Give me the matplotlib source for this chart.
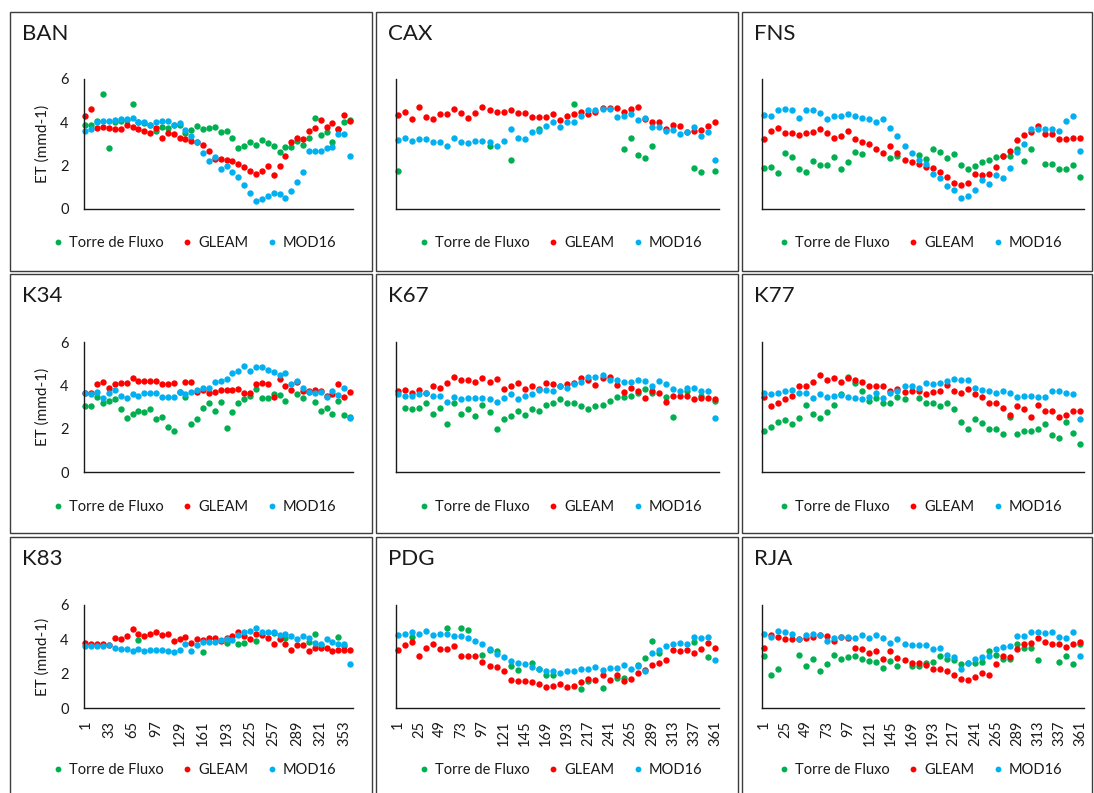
import numpy as np
import matplotlib
matplotlib.use("Agg")
import matplotlib.pyplot as plt
from matplotlib.patches import Rectangle
from matplotlib.lines import Line2D

nan = float("nan")

# ---------------- data ----------------
DOY = [1 + 8 * i for i in range(46)]
SITES = ["BAN", "CAX", "FNS", "K34", "K67", "K77", "K83", "PDG", "RJA"]
SERIES = ["Torre de Fluxo", "GLEAM", "MOD16"]

BAN_TORRE = [3.9, 3.9, 4.05, 5.3, 2.8, 4.0, 4.05, 4.1, 4.85, 4.0,
             3.95, 3.9, 3.6, 3.8, 3.75, 3.9, 3.9, 3.5, 3.65, 3.85,
             3.7, 3.75, 3.8, 3.55, 3.6, 3.3, 2.8, 2.9, 3.1, 2.95,
             3.2, 3.05, 2.9, 2.65, 2.85, 2.85, 3.15, 2.95, 3.3, 4.2,
             3.4, 3.55, 3.1, 3.7, 4.0, 4.1]
BAN_GLEAM = [4.3, 4.6, 3.75, 3.8, 3.75, 3.7, 3.7, 3.9, 3.8, 3.7,
             3.6, 3.5, 3.75, 3.3, 3.5, 3.45, 3.3, 3.25, 3.15, 3.1,
             2.95, 2.7, 2.3, 2.3, 2.25, 2.2, 2.1, 1.95, 1.75, 1.6,
             1.75, 2.0, 1.55, 2.0, 2.45, 3.1, 3.3, 3.25, 3.6, 3.75,
             4.1, 3.8, 3.95, 3.7, 4.35, 4.05]
BAN_MOD16 = [3.6, 3.7, 4.0, 4.05, 4.05, 4.1, 4.15, 4.15, 4.2, 4.0,
             4.0, 3.9, 4.0, 4.05, 4.05, 3.9, 3.95, 3.65, 3.35, 3.1,
             2.6, 2.2, 2.4, 1.85, 2.0, 1.7, 1.5, 1.1, 0.75, 0.35,
             0.45, 0.6, 0.75, 0.7, 0.5, 0.85, 1.25, 1.7, 2.7, 2.7,
             2.7, 2.8, 2.85, 3.45, 3.45, 2.45]

CAX_TORRE = [1.75, nan, nan, nan, nan, nan, nan, nan, nan, nan,
             nan, nan, nan, 2.9, nan, nan, 2.25, nan, nan, nan,
             3.7, nan, nan, nan, nan, 4.85, nan, nan, nan, nan,
             nan, nan, 2.75, 3.3, 2.5, 2.35, 2.9, nan, nan, nan,
             nan, nan, 1.9, 1.7, nan, 1.75]
CAX_GLEAM = [4.35, 4.5, 4.15, 4.7, 4.25, 4.15, 4.4, 4.4, 4.6, 4.45,
             4.2, 4.45, 4.7, 4.55, 4.5, 4.5, 4.55, 4.45, 4.45, 4.25,
             4.25, 4.25, 4.4, 4.1, 4.3, 4.4, 4.5, 4.4, 4.5, 4.65,
             4.65, 4.65, 4.5, 4.6, 4.7, 4.15, 4.0, 4.0, 3.7, 3.9,
             3.85, 3.55, 3.6, 3.65, 3.85, 4.0]
CAX_MOD16 = [3.2, 3.3, 3.15, 3.25, 3.25, 3.1, 3.1, 2.9, 3.3, 3.1,
             3.05, 3.15, 3.15, 3.1, 2.9, 3.15, 3.7, 3.3, 3.25, 3.55,
             3.6, 3.85, 4.0, 3.8, 4.0, 4.0, 4.3, 4.55, 4.55, 4.6,
             4.6, 4.25, 4.3, 4.4, 4.1, 4.2, 3.8, 3.8, 3.6, 3.65,
             3.45, 3.55, 3.8, 3.35, 3.55, 2.25]

FNS_TORRE = [1.9, 1.95, 1.65, 2.6, 2.4, 1.85, 1.7, 2.2, 2.05, 2.05,
             2.4, 1.85, 2.15, 2.65, 2.55, nan, nan, nan, 2.35, 2.45,
             nan, nan, 2.5, 2.3, 2.75, 2.65, 2.35, 2.55, 2.05, 1.85,
             2.0, 2.15, 2.25, 2.4, 2.45, 2.45, 2.75, 2.2, 2.75, nan,
             2.1, 2.1, 1.85, 1.85, 2.05, 1.5]
FNS_GLEAM = [3.25, 3.6, 3.75, 3.5, 3.5, 3.4, 3.5, 3.55, 3.7, 3.5,
             3.3, 3.35, 3.6, 3.25, 3.1, 3.0, 2.75, 2.6, 2.9, 2.6,
             2.25, 2.15, 2.1, 1.95, 1.9, 1.7, 1.5, 1.2, 1.1, 1.2,
             1.6, 1.55, 1.6, 1.95, 2.45, 2.7, 3.2, 3.4, 3.55, 3.85,
             3.45, 3.45, 3.25, 3.25, 3.3, 3.3]
FNS_MOD16 = [4.35, 4.3, 4.55, 4.6, 4.55, 4.2, 4.55, 4.55, 4.45, 4.15,
             4.3, 4.3, 4.4, 4.3, 4.2, 4.15, 4.0, 4.15, 3.75, 3.35,
             2.9, 2.6, 2.25, 2.1, 1.6, 1.45, 1.05, 0.9, 0.5, 0.6,
             0.9, 1.35, 1.15, 1.55, 1.45, 1.9, 2.65, 3.0, 3.7, 3.7,
             3.7, 3.7, 3.6, 4.05, 4.3, 2.7]

K34_TORRE = [3.05, 3.05, 3.45, 3.2, 3.3, 3.35, 2.9, 2.5, 2.7, 2.8,
             2.75, 2.9, 2.45, 2.55, 2.1, 1.9, nan, 3.45, 2.2, 2.45,
             2.95, 3.2, 2.8, 3.25, 2.05, 2.75, 3.2, 3.35, 3.5, 3.85,
             3.4, 3.4, 3.6, 3.55, 3.3, nan, 3.6, 3.4, 3.7, 3.25,
             2.8, 2.95, 2.7, 3.3, 2.65, 2.55]
K34_GLEAM = [3.65, 3.65, 4.05, 4.15, 3.9, 4.05, 4.1, 4.1, 4.35, 4.2,
             4.2, 4.2, 4.2, 4.05, 4.05, 4.1, 3.7, 4.15, 4.15, 3.7,
             3.8, 3.65, 3.7, 3.8, 3.8, 3.8, 3.85, 3.65, 3.65, 4.05,
             4.1, 4.05, 3.45, 4.3, 3.95, 3.8, 4.15, 3.75, 3.75, 3.8,
             3.75, 3.5, 3.6, 4.05, 3.45, 3.7]
K34_MOD16 = [3.65, 3.6, 3.7, 3.4, 3.65, 3.8, 3.5, 3.4, 3.6, 3.5,
             3.65, 3.65, 3.65, 3.45, 3.45, 3.45, 3.7, 3.6, 3.7, 3.8,
             3.9, 3.9, 4.15, 4.2, 4.3, 4.55, 4.65, 4.9, 4.65, 4.85,
             4.85, 4.7, 4.6, 4.5, 4.55, 4.05, 4.2, 3.9, 3.7, 3.65,
             3.7, 3.45, 3.75, 3.55, 3.9, 2.5]

K67_TORRE = [nan, 2.95, 2.9, 2.95, 3.2, 2.7, 2.95, 2.2, 3.2, 2.7,
             2.9, 2.6, 3.1, 2.75, 2.0, 2.45, 2.6, 2.8, 2.65, 2.9,
             2.8, 3.1, 3.2, 3.35, 3.2, 3.2, 3.05, 2.9, 3.05, 3.1,
             3.3, 3.45, 3.45, 3.5, 3.65, 3.85, 3.65, nan, 3.45, 2.55,
             nan, 3.75, nan, 3.5, nan, 3.3]
K67_GLEAM = [3.75, 3.8, 3.65, 3.8, 3.65, 3.95, 3.9, 4.1, 4.4, 4.25,
             4.25, 4.15, 4.35, 4.15, 4.3, 3.85, 3.95, 4.1, 3.85, 3.95,
             3.85, 4.1, 4.05, 3.95, 4.05, 4.1, 4.35, 4.25, 4.0, 4.35,
             4.4, 4.0, 3.7, 3.9, 3.75, 3.4, 3.75, 3.65, 3.25, 3.5,
             3.5, 3.5, 3.35, 3.4, 3.4, 3.35]
K67_MOD16 = [3.6, 3.5, 3.5, 3.6, 3.65, 3.5, 3.5, 3.25, 3.45, 3.35,
             3.4, 3.4, 3.4, 3.35, 3.25, 3.4, 3.6, 3.35, 3.5, 3.6,
             3.8, 3.8, 3.75, 3.95, 3.9, 4.05, 4.15, 4.4, 4.4, 4.5,
             4.25, 4.25, 4.15, 4.15, 4.25, 4.2, 3.95, 4.2, 4.05, 3.85,
             3.75, 3.9, 3.9, 3.75, 3.75, 2.5]

K77_TORRE = [1.9, 2.1, 2.3, 2.4, 2.2, 2.5, 3.1, 2.7, 2.5, 2.75,
             3.1, 3.6, 4.4, 4.1, 3.75, 3.3, 3.4, 3.2, 3.2, 3.45,
             3.35, nan, 3.4, 3.2, 3.2, 3.05, 3.2, 2.9, 2.3, 2.0,
             2.45, 2.25, 2.0, 2.0, 1.75, 2.55, 1.75, 1.9, 1.9, 2.0,
             2.2, 1.7, 1.55, 2.3, 1.8, 1.3]
K77_GLEAM = [3.45, 3.05, 3.2, 3.35, 3.5, 3.95, 3.95, 4.15, 4.5, 4.25,
             4.35, 4.15, 4.35, 4.25, 4.15, 3.95, 3.95, 3.95, 3.75, 3.85,
             3.7, 3.75, 3.75, 3.6, 3.7, 3.75, 4.0, 3.75, 3.65, 3.85,
             3.6, 3.45, 3.2, 3.2, 2.95, 2.65, 3.05, 2.9, 2.55, 3.1,
             2.8, 2.8, 2.55, 2.65, 2.8, 2.8]
K77_MOD16 = [3.65, 3.6, 3.65, 3.75, 3.8, 3.65, 3.65, 3.4, 3.6, 3.45,
             3.5, 3.55, 3.45, 3.4, 3.35, 3.45, 3.65, 3.4, 3.65, 3.75,
             3.95, 3.95, 3.9, 4.1, 4.05, 4.1, 4.2, 4.3, 4.25, 4.25,
             3.9, 3.8, 3.75, 3.65, 3.75, 3.65, 3.45, 3.5, 3.5, 3.45,
             3.45, 3.75, 3.75, 3.65, 3.6, 2.45]

K83_TORRE = [nan, nan, nan, nan, nan, nan, nan, nan, nan, 3.95,
             nan, nan, nan, nan, nan, nan, nan, nan, nan, nan,
             3.25, nan, nan, nan, 3.8, nan, 3.7, 3.8, nan, 3.9,
             nan, nan, 4.35, nan, 4.05, nan, nan, nan, 3.85, 4.3,
             3.65, nan, nan, 4.15, 3.6, nan]
K83_GLEAM = [3.8, 3.75, 3.75, 3.75, 3.65, 4.1, 4.0, 4.2, 4.6, 4.3,
             4.2, 4.3, 4.4, 4.25, 4.3, 3.9, 4.0, 4.15, 3.8, 4.0,
             3.95, 4.1, 4.1, 3.9, 4.1, 4.2, 4.4, 4.2, 4.0, 4.3,
             4.25, 4.1, 3.75, 4.0, 3.75, 3.35, 3.65, 3.65, 3.3, 3.5,
             3.5, 3.5, 3.3, 3.35, 3.4, 3.4]
K83_MOD16 = [3.6, 3.6, 3.6, 3.6, 3.65, 3.5, 3.45, 3.45, 3.3, 3.45,
             3.3, 3.4, 3.4, 3.4, 3.3, 3.25, 3.4, 3.7, 3.3, 3.65,
             3.85, 3.85, 3.85, 3.95, 4.0, 3.95, 4.25, 4.45, 4.5, 4.65,
             4.45, 4.4, 4.4, 4.25, 4.3, 4.2, 4.0, 4.2, 4.1, 3.8,
             3.7, 4.0, 3.85, 3.75, 3.75, 2.55]

PDG_TORRE = [nan, nan, 4.15, nan, nan, nan, nan, 4.65, nan, 4.65,
             4.55, nan, 3.1, 3.35, 3.3, nan, 2.45, 2.2, nan, 2.65,
             2.25, 1.9, 1.9, nan, nan, nan, 1.1, 1.55, nan, 1.15,
             nan, 1.75, 1.75, nan, 2.5, 2.9, 3.9, 3.2, nan, nan,
             nan, nan, 3.85, nan, 3.0, nan]
PDG_GLEAM = [3.4, 3.65, 3.85, 3.05, 3.5, 3.7, 3.45, 3.45, 3.6, 3.05,
             3.05, 3.05, 2.7, 2.45, 2.4, 2.15, 1.65, 1.55, 1.55, 1.5,
             1.4, 1.25, 1.3, 1.4, 1.25, 1.3, 1.5, 1.7, 1.65, 1.9,
             1.65, 1.9, 1.55, 1.7, 2.05, 2.2, 2.5, 2.65, 2.8, 3.35,
             3.3, 3.4, 3.2, 3.45, 3.8, 3.5]
PDG_MOD16 = [4.25, 4.3, 4.4, 4.3, 4.5, 4.25, 4.3, 4.3, 4.2, 4.2,
             4.1, 3.9, 3.75, 3.45, 3.15, 3.0, 2.75, 2.6, 2.55, 2.4,
             2.25, 2.15, 2.15, 2.05, 2.15, 2.15, 2.3, 2.3, 2.4, 2.2,
             2.35, 2.35, 2.5, 2.3, 2.45, 2.15, 3.2, 3.35, 3.6, 3.75,
             3.8, 3.75, 4.15, 4.1, 4.15, 2.8]

RJA_TORRE = [3.05, 1.95, 2.3, nan, nan, 3.1, 2.45, 2.85, 2.15, 2.55,
             3.1, 2.85, 2.95, 3.05, 2.85, 2.75, 2.7, 2.35, 2.75, 2.45,
             nan, 2.45, 2.45, 2.65, 2.7, 3.05, 2.85, 2.8, 2.55, 2.6,
             2.6, 2.7, 3.3, 3.1, 2.85, 2.85, 3.7, 3.5, 3.5, 2.8,
             nan, nan, 2.7, 3.05, 2.55, 3.75]
RJA_GLEAM = [3.5, 4.25, 4.15, 4.0, 4.0, 4.0, 4.1, 4.15, 4.25, 4.2,
             3.9, 4.15, 4.05, 3.5, 3.45, 3.2, 3.3, 2.85, 3.3, 2.9,
             2.8, 2.6, 2.6, 2.5, 2.3, 2.3, 2.15, 1.9, 1.7, 1.65,
             1.8, 2.05, 1.9, 2.55, 3.05, 2.95, 3.45, 3.7, 3.8, 4.1,
             3.85, 3.75, 3.7, 3.55, 3.7, 3.85]
RJA_MOD16 = [4.3, 4.15, 4.5, 4.4, 4.3, 4.0, 4.25, 4.3, 4.25, 3.9,
             4.1, 4.15, 4.15, 4.1, 4.25, 4.1, 4.25, 4.1, 3.8, 4.0,
             3.75, 3.65, 3.65, 3.65, 3.45, 3.5, 3.1, 2.95, 2.25, 2.6,
             2.85, 2.95, 3.05, 3.45, 3.55, 3.6, 4.2, 4.2, 4.4, 4.4,
             4.35, 4.4, 4.15, 4.1, 4.4, 3.05]

DATA = {
    "BAN": (BAN_TORRE, BAN_GLEAM, BAN_MOD16),
    "CAX": (CAX_TORRE, CAX_GLEAM, CAX_MOD16),
    "FNS": (FNS_TORRE, FNS_GLEAM, FNS_MOD16),
    "K34": (K34_TORRE, K34_GLEAM, K34_MOD16),
    "K67": (K67_TORRE, K67_GLEAM, K67_MOD16),
    "K77": (K77_TORRE, K77_GLEAM, K77_MOD16),
    "K83": (K83_TORRE, K83_GLEAM, K83_MOD16),
    "PDG": (PDG_TORRE, PDG_GLEAM, PDG_MOD16),
    "RJA": (RJA_TORRE, RJA_GLEAM, RJA_MOD16),
}

# ---------------- style ----------------
COLORS = ["#00B050", "#FF0000", "#00B0F0"]
FONT = ["Lato", "DejaVu Sans"]
plt.rcParams["font.family"] = FONT
TXT = "#1a1a1a"

W, H = 1094, 793
fig = plt.figure(figsize=(W / 100, H / 100), dpi=100)
fig.patch.set_facecolor("white")

# panel frames (pixels: left, right) / (top, bottom)
PANEL_X = [(10, 372), (376, 738), (742, 1092)]
PANEL_Y = [(12, 271), (274, 533), (537, 800)]
# plot areas
AX_X = [(84, 353), (396, 719), (762, 1084)]
AX_Y = [(79, 209), (342, 472), (605, 708)]
LEG_Y = [243, 507, 770]


def fx(px):
    return px / W


def fy(py):
    return 1 - py / H


for r in range(3):
    for c in range(3):
        x0, x1 = PANEL_X[c]
        y0, y1 = PANEL_Y[r]
        fig.add_artist(Rectangle((fx(x0), fy(y1)), (x1 - x0) / W, (y1 - y0) / H,
                                 transform=fig.transFigure, fill=False,
                                 edgecolor="#3c3c3c", linewidth=1.0, zorder=0))

xpos = np.arange(len(DOY))

for k, site in enumerate(SITES):
    r, c = divmod(k, 3)
    ax_l, ax_r = AX_X[c]
    ax_t, ax_b = AX_Y[r]
    ax = fig.add_axes([fx(ax_l), fy(ax_b), (ax_r - ax_l) / W, (ax_b - ax_t) / H])
    ax.set_facecolor("none")
    for s, vals in enumerate(DATA[site]):
        ax.plot(xpos, vals, linestyle="none", marker="o", markersize=4.6,
                markeredgewidth=0, color=COLORS[s], label=SERIES[s],
                clip_on=False)
    ax.set_xlim(-0.25, 45.5)
    ax.set_ylim(0, 6)
    ax.set_yticks([0, 2, 4, 6])
    for sp in ["top", "right"]:
        ax.spines[sp].set_visible(False)
    for sp in ["left", "bottom"]:
        ax.spines[sp].set_color("#1a1a1a")
        ax.spines[sp].set_linewidth(1.0)
    ax.tick_params(axis="y", length=0, pad=11, labelsize=10.5, labelcolor=TXT)
    if c != 0:
        ax.set_yticklabels([])
    else:
        fig.text(fx(43), fy((ax_t + ax_b) / 2), "ET (mmd-1)", rotation=90,
                 ha="center", va="center", fontsize=11, color=TXT)
    if r == 2:
        step = 4 if c == 0 else 3
        ticks = xpos[::step]
        ax.set_xticks(ticks)
        ax.set_xticklabels([str(DOY[i]) for i in ticks], rotation=90,
                           fontsize=10.5, color=TXT)
        ax.tick_params(axis="x", length=0, pad=9)
    else:
        ax.set_xticks([])

    # title
    px0 = PANEL_X[c][0]
    py0 = PANEL_Y[r][0]
    fig.text(fx(px0 + 12), fy(py0 + 22), site, ha="left", va="center",
             fontsize=16, color=TXT)

    # legend
    cx = (PANEL_X[c][0] + PANEL_X[c][1]) / 2 + 4
    leg_handles = [Line2D([], [], linestyle="none", marker="o", markersize=4.2,
                          markeredgewidth=0, color=COLORS[s]) for s in range(3)]
    fig.legend(leg_handles, SERIES, loc="center",
               bbox_to_anchor=(fx(cx), fy(LEG_Y[r])), ncol=3, frameon=False,
               fontsize=10.5, handlelength=0.6, handletextpad=0.45,
               columnspacing=1.3, borderaxespad=0, borderpad=0,
               labelcolor=TXT)

fig.savefig("out.png", dpi=100, facecolor="white")
